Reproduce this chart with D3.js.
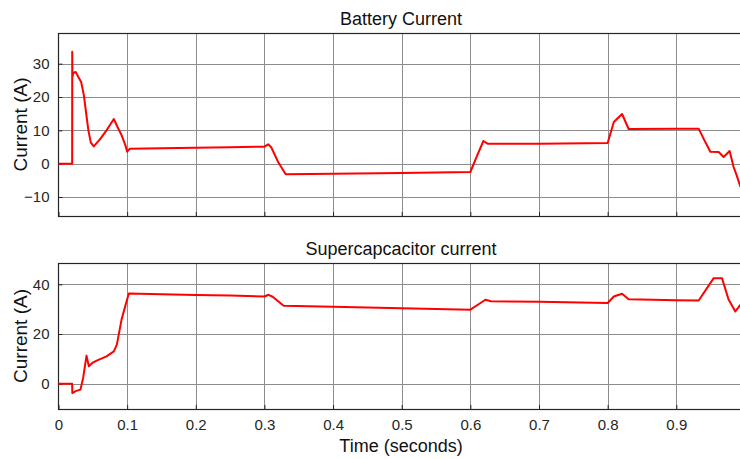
<!DOCTYPE html>
<html>
<head>
<meta charset="utf-8">
<script src="https://cdn.jsdelivr.net/npm/d3@7"></script>
<style>
  html, body { margin: 0; padding: 0; background: #fff; }
  svg { display: block; font-family: "Liberation Sans", Arial, sans-serif; }
</style>
</head>
<body>
<svg id="chart" width="740" height="459"></svg>
<script>
/* two stacked time plots: battery / supercapacitor current */

const xTicks = [0, 0.1, 0.2, 0.3, 0.4, 0.5, 0.6, 0.7, 0.8, 0.9];
const batteryTicks = [-10, 0, 10, 20, 30];
const scTicks = [0, 20, 40];

// battery current samples [t, A]
const batteryT = [0, 0.0199, 0.0200, 0.0203, 0.0215, 0.025, 0.029, 0.033, 0.037, 0.041, 0.0436, 0.047, 0.0514, 0.060, 0.070, 0.0806, 0.086, 0.092, 0.0975, 0.100, 0.104, 0.150, 0.200, 0.250, 0.300, 0.3055, 0.310, 0.320, 0.331, 0.400, 0.500, 0.600, 0.610, 0.619, 0.625, 0.700, 0.800, 0.809, 0.821, 0.8306, 0.900, 0.9326, 0.941, 0.9496, 0.9617, 0.969, 0.9777, 0.9835, 0.988, 0.9935];
const batteryA = [0, 0, 33.6, 26.0, 27.2, 27.5, 26.0, 24.5, 20.5, 14.0, 9.9, 6.4, 5.2, 7.2, 10.0, 13.4, 11.0, 8.5, 5.5, 3.6, 4.5, 4.6, 4.8, 4.9, 5.1, 5.8, 4.9, 0.5, -3.2, -3.0, -2.8, -2.5, 2.5, 6.8, 6.0, 6.0, 6.2, 12.5, 14.9, 10.4, 10.5, 10.5, 7.0, 3.6, 3.5, 2.0, 3.8, -1.0, -3.5, -7.0];

// supercapacitor current samples [t, A]
const scT = [0, 0.0199, 0.0201, 0.025, 0.032, 0.036, 0.0408, 0.0442, 0.050, 0.0564, 0.070, 0.0806, 0.085, 0.092, 0.1024, 0.150, 0.200, 0.250, 0.300, 0.306, 0.312, 0.328, 0.400, 0.500, 0.600, 0.612, 0.6219, 0.630, 0.700, 0.800, 0.809, 0.821, 0.8306, 0.900, 0.9326, 0.9545, 0.9666, 0.976, 0.986, 0.990, 0.9935];
const scA = [0, 0, -3.8, -3.0, -2.4, 2.5, 11.3, 7.0, 8.5, 9.4, 11.0, 13.0, 15.7, 26.0, 36.3, 36.0, 35.7, 35.5, 35.1, 35.8, 35.0, 31.4, 31.0, 30.4, 29.8, 32.0, 33.8, 33.2, 33.0, 32.5, 35.1, 36.2, 34.0, 33.6, 33.5, 42.5, 42.5, 34.0, 29.1, 30.5, 31.8];

const W = 740, H = 459;
const x = d3.scaleLinear().domain([0, 0.995]).range([58.5, 741.5]);

const svg = d3.select("#chart");
svg.append("rect").attr("width", W).attr("height", H).attr("fill", "#fff");

function drawPanel({ top, bottom, domain, yTicks, ts, vs, title, showX }) {
  const y = d3.scaleLinear().domain(domain).range([bottom, top]);
  const g = svg.append("g");

  // grid
  g.selectAll("line.gx").data(xTicks.slice(1)).join("line")
    .attr("x1", d => Math.round(x(d)) + 0.5).attr("x2", d => Math.round(x(d)) + 0.5)
    .attr("y1", top).attr("y2", bottom)
    .attr("stroke", "#8c8c8c").attr("stroke-width", 1);
  g.selectAll("line.gy").data(yTicks).join("line")
    .attr("x1", x.range()[0]).attr("x2", x.range()[1])
    .attr("y1", d => Math.round(y(d)) + 0.5).attr("y2", d => Math.round(y(d)) + 0.5)
    .attr("stroke", "#8c8c8c").attr("stroke-width", 1);

  // axes (MATLAB-style inward ticks)
  const left = d3.axisLeft(y).tickValues(yTicks).tickSize(-4).tickPadding(9).tickFormat(d3.format("d"));
  const gl = g.append("g").attr("transform", `translate(${x.range()[0]},0)`).call(left);
  const bot = d3.axisBottom(x).tickValues(xTicks).tickSize(-4).tickPadding(10)
    .tickFormat(showX ? d => (d === 0 ? "0" : d3.format(".1f")(d)) : "");
  const gb = g.append("g").attr("transform", `translate(0,${bottom})`).call(bot);
  for (const ax of [gl, gb]) {
    ax.select(".domain").remove();
    ax.selectAll(".tick line").attr("stroke", "#262626");
    ax.selectAll(".tick text").attr("fill", "#262626").attr("font-size", 15);
  }

  // frame
  g.append("rect")
    .attr("x", x.range()[0]).attr("y", top + 0.5)
    .attr("width", x.range()[1] - x.range()[0]).attr("height", bottom - top)
    .attr("fill", "none").attr("stroke", "#262626").attr("stroke-width", 1.2);

  // trace
  const pts = ts.map((t, i) => [t, vs[i]]);
  g.append("path")
    .datum(pts)
    .attr("d", d3.line().x(d => x(d[0])).y(d => y(d[1])))
    .attr("fill", "none").attr("stroke", "#f00").attr("stroke-width", 2)
    .attr("stroke-linejoin", "round");

  g.append("text")
    .attr("x", 401).attr("y", top - 8)
    .attr("text-anchor", "middle").attr("font-size", 18).attr("fill", "#111")
    .text(title);

  g.append("text")
    .attr("transform", `translate(27,${(top + bottom) / 2}) rotate(-90)`)
    .attr("text-anchor", "middle").attr("font-size", 19).attr("fill", "#111")
    .text("Current (A)");
}

drawPanel({ top: 33, bottom: 216, domain: [-15.7, 39.2], yTicks: batteryTicks,
  ts: batteryT, vs: batteryA, title: "Battery Current", showX: false });
drawPanel({ top: 263, bottom: 409, domain: [-10.2, 48.6], yTicks: scTicks,
  ts: scT, vs: scA, title: "Supercapcacitor current", showX: true });

svg.append("text")
  .attr("x", 401).attr("y", 452)
  .attr("text-anchor", "middle").attr("font-size", 18).attr("fill", "#111")
  .text("Time (seconds)");
</script>
</body>
</html>
